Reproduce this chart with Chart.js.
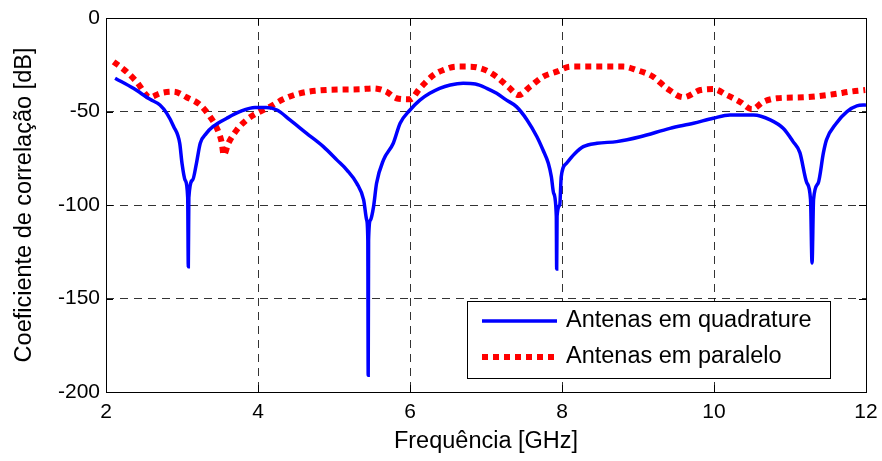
<!DOCTYPE html>
<html>
<head>
<meta charset="utf-8">
<script src="https://cdn.jsdelivr.net/npm/chart.js@4.4.1/dist/chart.umd.min.js"></script>
<style>
html,body{margin:0;padding:0;background:#fff;}
#wrap{width:882px;height:461px;position:relative;}
</style>
</head>
<body>
<div id="wrap"><canvas id="c" width="882" height="461"></canvas></div>
<script>
// Frequency (GHz) / correlation coefficient (dB)
const quadFreq = [2.12,2.36,2.58,2.71,2.80,2.89,2.97,3.00,3.04,3.075,3.083,3.09,3.14,3.19,3.24,3.32,3.41,3.59,3.76,3.96,4.11,4.25,4.42,4.64,4.86,5.04,5.17,5.30,5.39,5.43,5.445,5.45,5.455,5.48,5.52,5.56,5.65,5.78,5.87,6.00,6.13,6.26,6.39,6.53,6.70,6.86,7.01,7.14,7.27,7.40,7.54,7.67,7.75,7.82,7.86,7.89,7.925,7.93,7.935,7.97,7.99,8.06,8.17,8.28,8.46,8.72,9.03,9.42,9.73,9.99,10.21,10.52,10.74,10.91,11.04,11.13,11.22,11.27,11.29,11.31,11.37,11.44,11.48,11.61,11.75,11.88,12.00];
const quadDb   = [-32.2,-37.6,-43.5,-46.5,-51,-58,-67,-77.7,-86.6,-96,-133,-96,-86.6,-77.7,-67,-61.7,-58,-53.6,-50.1,-47.8,-47.8,-49.2,-54.5,-61.7,-68.8,-76,-81.3,-88.4,-97.3,-108,-118.7,-191,-118.7,-108,-101,-88.4,-76,-67,-56.3,-49.2,-43.9,-40.3,-37.6,-35.8,-34.9,-35.3,-37.6,-40.3,-43.9,-47.4,-54.5,-63.5,-70.6,-77.7,-84.9,-93.7,-106,-134.2,-106,-100,-84.9,-77.7,-72.4,-68.8,-67,-66.1,-63.5,-59,-56.3,-53.6,-51.9,-51.9,-54.5,-59,-66.1,-72,-88,-97,-131,-97,-88.4,-72,-65.2,-56.3,-50.1,-47,-46.5];

const paraFreq = [2.10,2.27,2.40,2.58,2.71,2.89,3.06,3.24,3.37,3.46,3.52,3.55,3.61,3.72,3.85,3.98,4.16,4.33,4.55,4.90,5.34,5.52,5.69,5.82,6.00,6.13,6.31,6.44,6.61,6.79,6.99,7.14,7.29,7.43,7.58,7.75,7.93,8.11,8.37,8.81,8.98,9.20,9.38,9.60,9.82,9.99,10.17,10.34,10.50,10.65,10.83,11.18,11.57,11.79,11.99];
const paraDb   = [-23.4,-28.7,-34,-42.4,-40.3,-39.4,-42.4,-46.5,-52.8,-59,-66.1,-73.3,-67,-59.9,-54.5,-51,-47.4,-43.5,-40.3,-38.5,-38.1,-37.6,-39.4,-42.9,-43.5,-37.6,-30.5,-27.8,-26,-26,-27.8,-31.4,-36.7,-41.2,-36.7,-31.4,-28.7,-26,-26,-26,-27.8,-31.4,-37.6,-42.4,-38.5,-38,-41.2,-44.8,-48.8,-44.8,-42.9,-42.4,-40.8,-39.4,-38.5];

const seriesLabels = ['Antenas em quadrature','Antenas em paralelo'];
const xTicks = [2,4,6,8,10,12];
const yTicks = [0,-50,-100,-150,-200];
const xTitle = 'Frequência [GHz]';
const yTitle = 'Coeficiente de correlação [dB]';

const toPts = (xs, ys) => xs.map((x, i) => ({x: x, y: ys[i]}));
const FONT = '"Liberation Sans", Arial, sans-serif';

const framePlugin = {
  id: 'frame',
  afterDatasetsDraw(chart) {
    const {ctx, chartArea: a, scales} = chart;
    ctx.save();
    ctx.strokeStyle = '#000';
    ctx.lineWidth = 1;
    ctx.setLineDash([]);
    ctx.strokeRect(Math.round(a.left) + 0.5, Math.round(a.top) + 0.5, Math.round(a.right - a.left), Math.round(a.bottom - a.top));
    const tl = 7;
    ctx.beginPath();
    xTicks.forEach(v => {
      const px = Math.round(scales.x.getPixelForValue(v)) + 0.5;
      ctx.moveTo(px, a.bottom); ctx.lineTo(px, a.bottom - tl);
      ctx.moveTo(px, a.top); ctx.lineTo(px, a.top + tl);
    });
    yTicks.forEach(v => {
      const py = Math.round(scales.y.getPixelForValue(v)) + 0.5;
      ctx.moveTo(a.left, py); ctx.lineTo(a.left + tl, py);
      ctx.moveTo(a.right, py); ctx.lineTo(a.right - tl, py);
    });
    ctx.stroke();
    ctx.restore();
  },
  afterDraw(chart) {
    const {ctx} = chart;
    const bx = 467, by = 301, bw = 363, bh = 77;
    ctx.save();
    ctx.fillStyle = '#fff';
    ctx.fillRect(bx, by, bw, bh);
    ctx.strokeStyle = '#000';
    ctx.lineWidth = 1;
    ctx.setLineDash([]);
    ctx.strokeRect(bx + 0.5, by + 0.5, bw, bh);
    const rows = [321, 357];
    chart.data.datasets.forEach((ds, i) => {
      const y = rows[i];
      ctx.save();
      ctx.strokeStyle = ds.borderColor;
      ctx.lineWidth = ds.borderWidth;
      ctx.lineCap = 'butt';
      ctx.setLineDash(ds.borderDash || []);
      ctx.beginPath();
      ctx.moveTo(482, y); ctx.lineTo(557, y);
      ctx.stroke();
      ctx.restore();
      ctx.fillStyle = '#000';
      ctx.font = '23.5px ' + FONT;
      ctx.textBaseline = 'middle';
      ctx.textAlign = 'left';
      ctx.fillText(ds.label, 566, y);
    });
    ctx.restore();
  }
};

new Chart(document.getElementById('c'), {
  type: 'line',
  data: {
    datasets: [
      {label: seriesLabels[0], data: toPts(quadFreq, quadDb), borderColor: '#0000ff', borderWidth: 3.5, pointRadius: 0, fill: false, cubicInterpolationMode: 'monotone'},
      {label: seriesLabels[1], data: toPts(paraFreq, paraDb), borderColor: '#ff0000', borderWidth: 6, borderDash: [6, 5], borderCapStyle: 'butt', pointRadius: 0, fill: false, cubicInterpolationMode: 'monotone'}
    ]
  },
  options: {
    responsive: false,
    animation: false,
    devicePixelRatio: 1,
    layout: {padding: {top: 18, right: 16, left: 0, bottom: 0}},
    plugins: {legend: {display: false}, tooltip: {enabled: false}},
    scales: {
      x: {
        type: 'linear', min: 2, max: 12,
        afterBuildTicks: s => { s.ticks = xTicks.map(v => ({value: v})); },
        afterFit: s => { s.height = 69; s.paddingRight = 0; s.paddingLeft = 0; },
        ticks: {color: '#000', font: {family: FONT, size: 21}, padding: 8, maxRotation: 0},
        grid: {color: 'rgba(0,0,0,0.8)', lineWidth: 1, drawTicks: false},
        border: {display: false, dash: [8, 6]},
        title: {display: true, text: xTitle, color: '#000', font: {family: FONT, size: 23.5}, padding: {top: 0, bottom: 5}}
      },
      y: {
        type: 'linear', min: -200, max: 0,
        afterBuildTicks: s => { s.ticks = yTicks.map(v => ({value: v})); },
        afterFit: s => { s.width = 106; s.paddingTop = 0; s.paddingBottom = 0; },
        ticks: {color: '#000', font: {family: FONT, size: 21}, padding: 6},
        grid: {color: 'rgba(0,0,0,0.8)', lineWidth: 1, drawTicks: false},
        border: {display: false, dash: [8, 6]},
        title: {display: true, text: yTitle, color: '#000', font: {family: FONT, size: 23.5}, padding: {top: 10, bottom: 0}}
      }
    }
  },
  plugins: [framePlugin]
});
</script>
</body>
</html>
